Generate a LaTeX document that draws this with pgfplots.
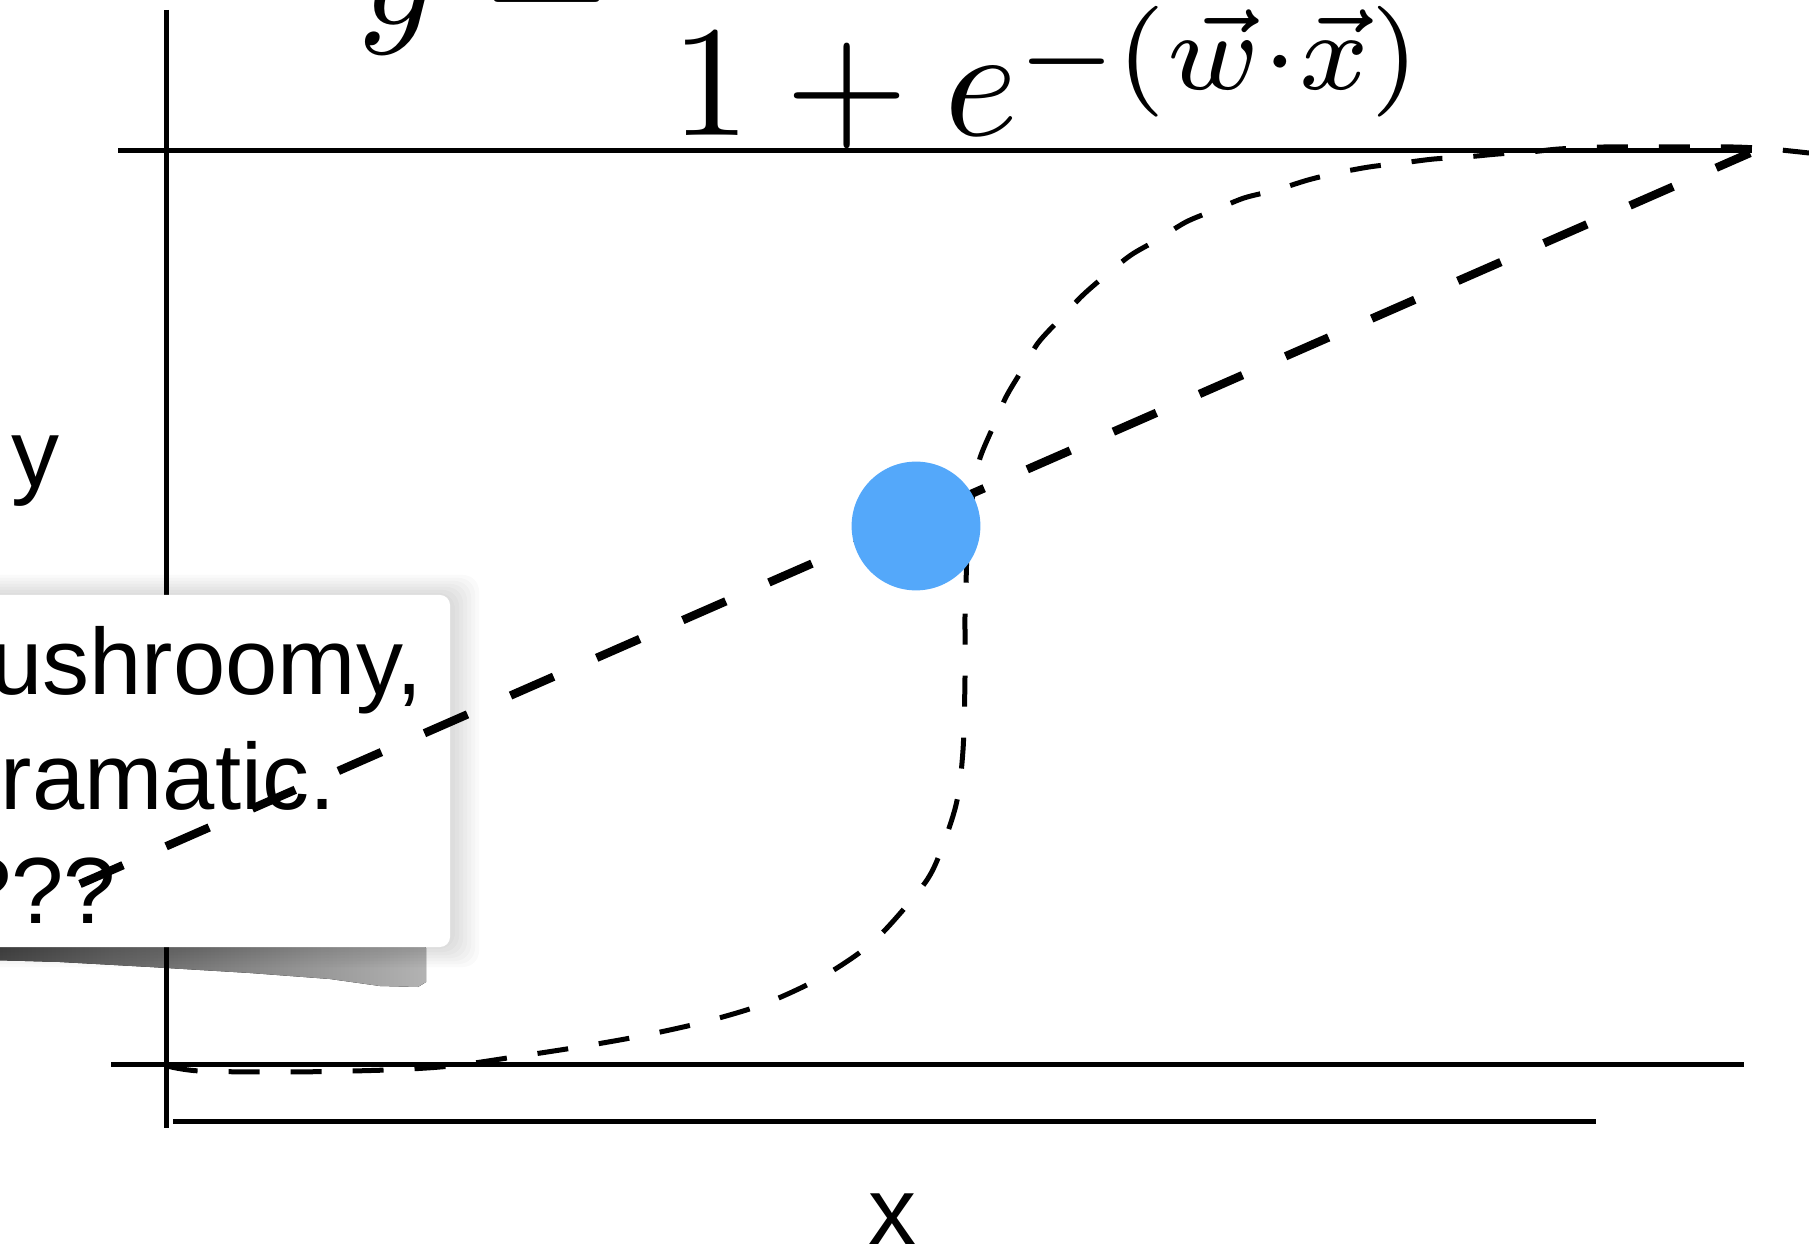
\RequirePackage{fix-cm}
\documentclass[border=0pt]{standalone}
\usepackage[no-math]{fontspec}
\usepackage{graphicx}
\usepackage{pgfplots}
\pgfplotsset{compat=1.18}
\newfontfamily\hel{Liberation Sans}
\definecolor{dotblue}{RGB}{84,168,250}
\begin{document}
\begin{tikzpicture}
\begin{axis}[
  width=452.25pt, height=312.5pt, scale only axis,
  xmin=0, xmax=1809, ymin=0, ymax=1250, y dir=reverse,
  hide axis, clip=false,
]
% torn paper shadow band
\fill[left color=black!72, right color=black!30]
  (-10,940) -- (420,940) -- (426,948) -- (426,982) -- (418,987) -- (380,986) -- (330,979)
  -- (250,973) -- (150,967) -- (60,962) -- (-10,960) -- cycle;
% vertical axis line
\addplot[black, line width=1.25pt] coordinates {(166,10) (166,1128)};
% soft shadow around box
\fill[black, opacity=0.02, rounded corners=4pt] (-30,593) rectangle (455,949);
\fill[black, opacity=0.02, rounded corners=4pt] (-30,590) rectangle (459,952);
\fill[black, opacity=0.02, rounded corners=4pt] (-30,587) rectangle (463,955);
\fill[black, opacity=0.02, rounded corners=4pt] (-30,584) rectangle (467,958);
\fill[black, opacity=0.02, rounded corners=4pt] (-30,581) rectangle (471,961);
\fill[black, opacity=0.02, rounded corners=4pt] (-30,578) rectangle (475,964);
\fill[black, opacity=0.02, rounded corners=4pt] (-30,575) rectangle (479,967);
% white box
\fill[white, rounded corners=2.5pt] (-30,595) rectangle (450,947);
% box text
\node[anchor=base east, inner sep=0pt, font=\hel\fontsize{23.5}{28}\selectfont] at (423,695) {Mushroomy,};
\node[anchor=base east, inner sep=0pt, font=\hel\fontsize{23.5}{28}\selectfont] at (336,810) {Dramatic.};
\node[anchor=base east, inner sep=0pt, font=\hel\fontsize{23.5}{28}\selectfont] at (117,923) {????};
% horizontal lines
\addplot[black, line width=1.25pt] coordinates {(118,151) (1752,151)};
\addplot[black, line width=1.25pt] coordinates {(111,1064) (1744,1064)};
\addplot[black, line width=1.25pt] coordinates {(173,1121) (1596,1121)};
% steep sigmoid (thin dashes)
\addplot[black, line width=1.25pt, smooth, tension=0.5, dash pattern=on 7.75pt off 7.75pt] coordinates {
(167,1066) (200,1071) (290,1072) (387,1070) (451,1066) (514,1057) (579,1047) (641,1036)
(704,1022) (764,1004) (822,977) (873,942) (918,892) (936,863) (956,805) (963,750)
(965,677) (965,615) (966,583) (968,530) (974,488) (980,458) (993,427) (1006,397)
(1022,370) (1038,343) (1061,318) (1083,295) (1106,275) (1131,255) (1157,240) (1186,222)
(1215,210) (1244,198) (1276,190) (1308,180) (1337,173) (1369,167) (1402,163) (1434,159)
(1466,157) (1498,154) (1530,152) (1559,149) (1604,147) (1669,147) (1733,147) (1770,149) (1809,153)};
% shallow line (thick dashes)
\addplot[black, line width=2.1pt, dash pattern=on 11.75pt off 11.75pt] coordinates {(80,884) (1750,153)};
% blue point
\addplot[dotblue, only marks, mark=*, mark size=15.9pt, mark options={draw=dotblue, fill=dotblue}] coordinates {(916,526)};
% labels
\node[anchor=base, inner sep=0pt, font=\hel\fontsize{24}{28}\selectfont] at (35,487) {y};
\node[anchor=base, inner sep=0pt, font=\hel\fontsize{24}{28}\selectfont] at (892,1244) {x};
% equation
\node[anchor=base west, inner sep=0pt] at (357,24) {\scalebox{3.96}{$\displaystyle y=\frac{1}{1+e^{-(\vec{w}\cdot\vec{x})}}$}};
\end{axis}
\pgfresetboundingbox
\path[use as bounding box] (current axis.south west) rectangle (current axis.north east);
\end{tikzpicture}
\end{document}
